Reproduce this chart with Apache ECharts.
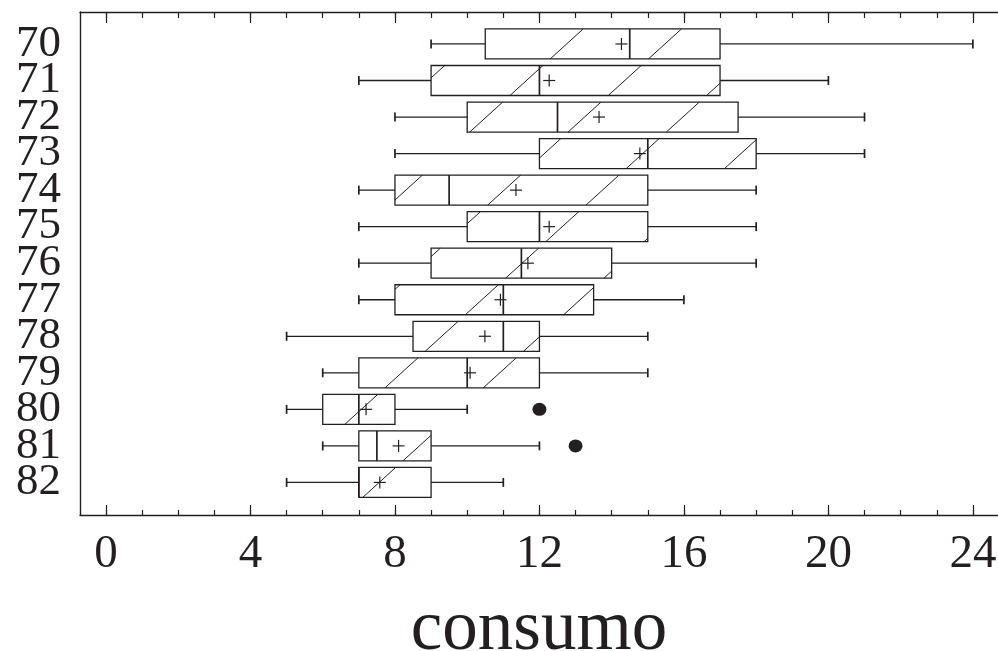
<!DOCTYPE html>
<html>
<head>
<meta charset="utf-8">
<script src="https://cdn.jsdelivr.net/npm/echarts@6/dist/echarts.min.js"></script>
<style>
html,body{margin:0;padding:0;background:#fff;}
#chart{width:998px;height:651px;}
</style>
</head>
<body>
<div id="chart"></div>
<script>
// ---- data ----
const categories = ['70','71','72','73','74','75','76','77','78','79','80','81','82'];
const minVals    = [9, 7, 8, 8, 7, 7, 7, 7, 5, 6, 5, 6, 5];
const q1Vals     = [10.5, 9, 10, 12, 8, 10, 9, 8, 8.5, 7, 6, 7, 7];
const medianVals = [14.5, 12, 12.5, 15, 9.5, 12, 11.5, 11, 11, 10, 7, 7.5, 7];
const q3Vals     = [17, 17, 17.5, 18, 15, 15, 14, 13.5, 12, 12, 8, 9, 9];
const maxVals    = [24, 20, 21, 21, 18, 18, 18, 16, 15, 15, 10, 12, 11];
const meanVals   = [14.27, 12.27, 13.65, 14.78, 11.35, 12.27, 11.68, 10.92, 10.49, 10.08, 7.2, 8.1, 7.58];
const outlierVals = [12, 13];
const outlierCats = ['80', '81'];
const xTickLabels = [0, 4, 8, 12, 16, 20, 24];
const xName = 'consumo';

// ---- style ----
const INK = '#231f20';
const FONT = 'Liberation Serif';

const boxData = categories.map((c, i) => [i, minVals[i], q1Vals[i], medianVals[i], q3Vals[i], maxVals[i], meanVals[i]]);
const outlierData = outlierVals.map((v, i) => [v, outlierCats[i]]);

function renderItem(params, api) {
  const i = api.value(0);
  const px = v => api.coord([v, i])[0];
  const cy = api.coord([0, i])[1];
  const h = 15, cap = 4.5, plus = 6;
  const xMin = px(api.value(1)), xQ1 = px(api.value(2)), xMed = px(api.value(3)),
        xQ3 = px(api.value(4)), xMax = px(api.value(5)), xMean = px(api.value(6));
  const ln = (x1, y1, x2, y2, w) => ({
    type: 'line', shape: {x1, y1, x2, y2},
    style: {stroke: INK, lineWidth: w || 1.3, fill: null}
  });
  const children = [];
  children.push(ln(xMin, cy, xQ1, cy));
  children.push(ln(xQ3, cy, xMax, cy));
  children.push(ln(xMin, cy - cap, xMin, cy + cap, 1.7));
  children.push(ln(xMax, cy - cap, xMax, cy + cap, 1.7));
  children.push({
    type: 'rect', shape: {x: xQ1, y: cy - h, width: xQ3 - xQ1, height: 2 * h},
    style: {stroke: INK, lineWidth: 1.3, fill: '#fff'}
  });
  // hatch pattern "/" clipped to box
  const k = 1.1, c0 = 615, period = 98.3;
  const y0 = cy - h, y1 = cy + h;
  const cLo = xQ1 + k * y0, cHi = xQ3 + k * y1;
  const nStart = Math.ceil((cLo - c0) / period), nEnd = Math.floor((cHi - c0) / period);
  for (let n = nStart; n <= nEnd; n++) {
    const c = c0 + n * period;
    const ya = Math.max(y0, (c - xQ3) / k);
    const yb = Math.min(y1, (c - xQ1) / k);
    if (yb - ya > 0.5) children.push(ln(c - k * ya, ya, c - k * yb, yb, 1.0));
  }
  children.push(ln(xMed, cy - h, xMed, cy + h, 1.7));
  children.push(ln(xMean - plus, cy, xMean + plus, cy, 1.2));
  children.push(ln(xMean, cy - plus, xMean, cy + plus, 1.2));
  return {type: 'group', children};
}

const hiddenCommon = {
  axisLabel: {show: false}, axisTick: {show: false}, splitLine: {show: false}
};
const tickAxis = (pos, interval, len, labels) => ({
  type: 'value', gridIndex: 1, position: pos, min: 0, max: 25, interval: interval,
  axisLine: {show: false},
  axisTick: {show: true, inside: true, length: len, lineStyle: {color: INK, width: 1.2}},
  axisLabel: labels ? {
    show: true, color: INK, fontFamily: FONT, fontSize: 47, margin: 16,
    formatter: v => (xTickLabels.indexOf(v) >= 0 ? String(v) : '')
  } : {show: false},
  splitLine: {show: false}
});

const chart = echarts.init(document.getElementById('chart'), null, {renderer: 'canvas'});
chart.setOption({
  backgroundColor: '#fff',
  animation: false,
  grid: [
    {left: 80, right: 0, top: 12, bottom: 136, outerBoundsMode: 'none', containLabel: false},
    {left: 106, right: -11, top: 12, bottom: 136, outerBoundsMode: 'none', containLabel: false},
    {left: 106, right: -11, top: 25.7, bottom: 150.3, outerBoundsMode: 'none', containLabel: false}
  ],
  xAxis: [
    Object.assign({type: 'value', gridIndex: 0, position: 'bottom', min: 0, max: 1,
      axisLine: {show: true, onZero: false, lineStyle: {color: INK, width: 1.4}},
      name: xName, nameLocation: 'middle', nameGap: 80,
      nameTextStyle: {color: INK, fontFamily: FONT, fontSize: 71}}, hiddenCommon),
    Object.assign({type: 'value', gridIndex: 0, position: 'top', min: 0, max: 1,
      axisLine: {show: true, onZero: false, lineStyle: {color: INK, width: 1.4}}}, hiddenCommon),
    tickAxis('bottom', 1, 5, false),
    tickAxis('bottom', 4, 10, true),
    tickAxis('top', 1, 6, false),
    tickAxis('top', 4, 11, false),
    Object.assign({type: 'value', gridIndex: 2, min: 0, max: 25, show: false}, hiddenCommon)
  ],
  yAxis: [
    Object.assign({type: 'value', gridIndex: 0, min: 0, max: 1,
      axisLine: {show: true, onZero: false, lineStyle: {color: INK, width: 1.4}}}, hiddenCommon),
    {type: 'value', gridIndex: 1, show: false, splitLine: {show: false}},
    {
      type: 'category', gridIndex: 2, data: categories, inverse: true,
      axisLine: {show: false}, axisTick: {show: false}, splitLine: {show: false},
      axisLabel: {show: true, interval: 0, color: INK, fontFamily: FONT, fontSize: 45, margin: 45}
    }
  ],
  series: [
    {
      type: 'custom', xAxisIndex: 6, yAxisIndex: 2,
      renderItem: renderItem,
      encode: {x: [1, 2, 3, 4, 5, 6], y: 0},
      data: boxData
    },
    {
      type: 'scatter', xAxisIndex: 6, yAxisIndex: 2,
      symbol: 'circle', symbolSize: [14, 13],
      itemStyle: {color: INK, opacity: 1},
      data: outlierData
    }
  ]
});
</script>
</body>
</html>
